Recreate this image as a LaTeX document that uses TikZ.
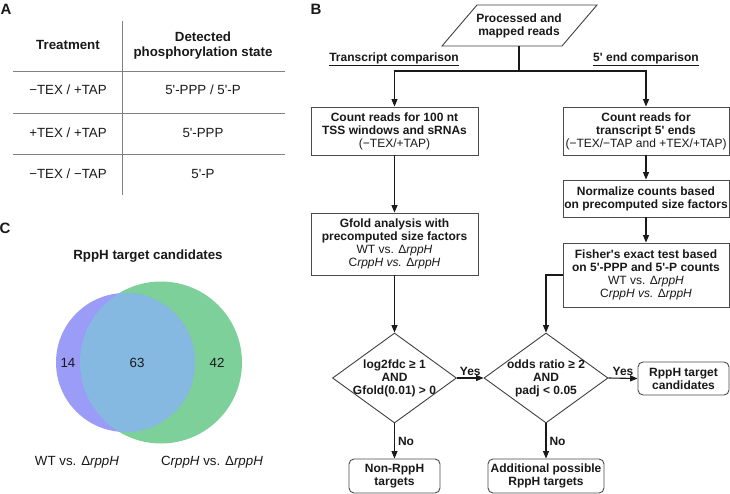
\documentclass[tikz,border=0pt]{standalone}
\usepackage{fontspec}
\setmainfont{Liberation Sans}
\usetikzlibrary{arrows.meta,shapes.geometric}
\newcommand\fsF{\fontsize{12}{13}\selectfont}
\newcommand\fsT{\fontsize{13.3}{15}\selectfont}
\newcommand\fsL{\fontsize{15}{17}\selectfont\bfseries}
\newcommand\q{\textquotesingle}
\definecolor{vblue}{RGB}{155,155,248}
\definecolor{vgreen}{RGB}{126,208,154}
\definecolor{vover}{RGB}{133,185,226}
\definecolor{ink}{RGB}{25,25,25}
\begin{document}
\begin{tikzpicture}[x=1pt,y=-1pt,
  line/.style={draw=ink, line width=1.1pt},
  arr/.style={line, -{Triangle[length=7.5pt,width=6pt]}},
  box/.style={draw=black!70, line width=0.9pt, fill=white, align=center, inner sep=0pt, font=\fsF, text=ink},
  rbox/.style={box, rounded corners=5pt, font={\fsF\bfseries}},
  dia/.style={diamond, draw=black!75, line width=0.9pt, inner sep=0pt, minimum width=124pt, minimum height=90pt},
  txt/.style={align=center, inner sep=0pt, font=\fsF, text=ink},
  tab/.style={align=center, inner sep=0pt, font=\fsT, text=ink},
  tline/.style={draw=black!50, line width=0.9pt},
  plabel/.style={font=\fsL, inner sep=0pt, text=ink}
]
\useasboundingbox (0,0) rectangle (730,494);
\fill[white] (0,0) rectangle (730,494);

% ---------- Panel A ----------
\node[plabel] (lA) at (6,9) {A};
\draw[tline] (122,21) -- (122,195);
\draw[tline] (13,71) -- (285,71);
\draw[tline] (13,113) -- (285,113);
\draw[tline] (13,154) -- (285,154);
\node[tab, font={\fsT\bfseries}] (h1) at (68,45) {Treatment};
\node[tab, font={\fsT\bfseries}] (h2) at (203,45.5) {Detected\\phosphorylation state};
\node[tab] (r1a) at (68,90) {−TEX / +TAP};
\node[tab] (r1b) at (203,90) {5\q-PPP / 5\q-P};
\node[tab] (r2a) at (68,133) {+TEX / +TAP};
\node[tab] (r2b) at (203,133) {5\q-PPP};
\node[tab] (r3a) at (68,174) {−TEX / −TAP};
\node[tab] (r3b) at (203,174) {5\q-P};

% ---------- Panel B ----------
\node[plabel] (lB) at (316,9) {B};
\draw[draw=black!75, line width=0.9pt] (442,46) -- (477,5) -- (597,5) -- (562,46) -- cycle;
\node[txt, font={\fsF\bfseries}, minimum height=41pt] (src) at (519,25.5) {Processed and\\mapped reads};
\node[txt, font={\fsF\bfseries}] (tc) at (394,59) {\underline{Transcript comparison}};
\node[txt, font={\fsF\bfseries}] (ec) at (646,59) {\underline{5\q{} end comparison}};

\node[box, minimum width=167pt, minimum height=48pt] (lb1) at (394.5,131)
  {\textbf{Count reads for 100 nt}\\\textbf{TSS windows and sRNAs}\\(−TEX/+TAP)};
\node[box, minimum width=167pt, minimum height=62pt] (lb2) at (394.5,244)
  {\textbf{Gfold analysis with}\\\textbf{precomputed size factors}\\WT vs. Δ\textit{rppH}\\C\textit{rppH vs. }Δ\textit{rppH}};
\node[box, minimum width=166pt, minimum height=48pt] (rb1) at (646,131)
  {\textbf{Count reads for}\\\textbf{transcript 5\q{} ends}\\(−TEX/−TAP and +TEX/+TAP)};
\node[box, minimum width=166pt, minimum height=37pt] (rb2) at (646,198.5)
  {\textbf{Normalize counts based}\\\textbf{on precomputed size factors}};
\node[box, minimum width=166pt, minimum height=64pt] (rb3) at (646,275)
  {\textbf{Fisher\q{}s exact test based}\\\textbf{on 5\q-PPP and 5\q-P counts}\\WT vs. Δ\textit{rppH}\\C\textit{rppH vs. }Δ\textit{rppH}};

\node[dia] (d1) at (394.5,378) {};
\node[txt, font={\fsF\bfseries}] (d1t) at (394.5,378.5) {log2fdc ≥ 1\\AND\\Gfold(0.01) > 0};
\node[dia] (d2) at (546,378) {};
\node[txt, font={\fsF\bfseries}] (d2t) at (546,378.5) {odds ratio ≥ 2\\AND\\padj < 0.05};

\node[rbox, minimum width=91pt, minimum height=33pt] (cand) at (683.5,378.5) {RppH target\\candidates};
\node[rbox, minimum width=91pt, minimum height=34pt] (non) at (394.5,476) {Non-RppH\\targets};
\node[rbox, minimum width=116pt, minimum height=34pt] (add) at (546,476) {Additional possible\\RppH targets};

\coordinate (split) at (519,71);
\draw[line] (src.south) -- (split);
\draw[arr] (split) -| (lb1.north);
\draw[arr] (split) -| (rb1.north);
\draw[arr] (lb1) -- (lb2);
\draw[arr] (rb1) -- (rb2);
\draw[arr] (rb2) -- (rb3);
\draw[arr] (lb2) -- (d1.north);
\draw[arr] (rb3.west) -| (d2.north);
\draw[arr] (d1.east) -- (d2.west) node[midway, above=1pt, font={\fsF\bfseries}, text=ink, inner sep=1pt] {Yes};
\draw[arr] (d2.east) -- (cand.west) node[midway, above=1pt, font={\fsF\bfseries}, text=ink, inner sep=1pt] {Yes};
\draw[arr] (d1.south) -- (non.north) node[midway, right=2pt, font={\fsF\bfseries}, text=ink, inner sep=1pt] {No};
\draw[arr] (d2.south) -- (add.north) node[midway, right=2pt, font={\fsF\bfseries}, text=ink, inner sep=1pt] {No};

% ---------- Panel C ----------
\node[plabel] (lC) at (5,228) {C};
\node[tab, font={\fsT\bfseries}] (vt) at (148,256) {RppH target candidates};
\fill[vgreen] (161,362.5) circle[radius=81pt];
\fill[vblue] (125.5,362.5) circle[radius=69.5pt];
\begin{scope}
  \clip (161,362.5) circle[radius=81pt];
  \fill[vover] (125.5,362.5) circle[radius=69.5pt];
\end{scope}
\node[tab] (n14) at (68,363) {14};
\node[tab] (n63) at (137,363) {63};
\node[tab] (n42) at (217,363) {42};
\node[tab] (vl1) at (77,462) {WT vs. Δ\textit{rppH}};
\node[tab] (vl2) at (212,462) {C\textit{rppH} vs. Δ\textit{rppH}};
\end{tikzpicture}
\end{document}
